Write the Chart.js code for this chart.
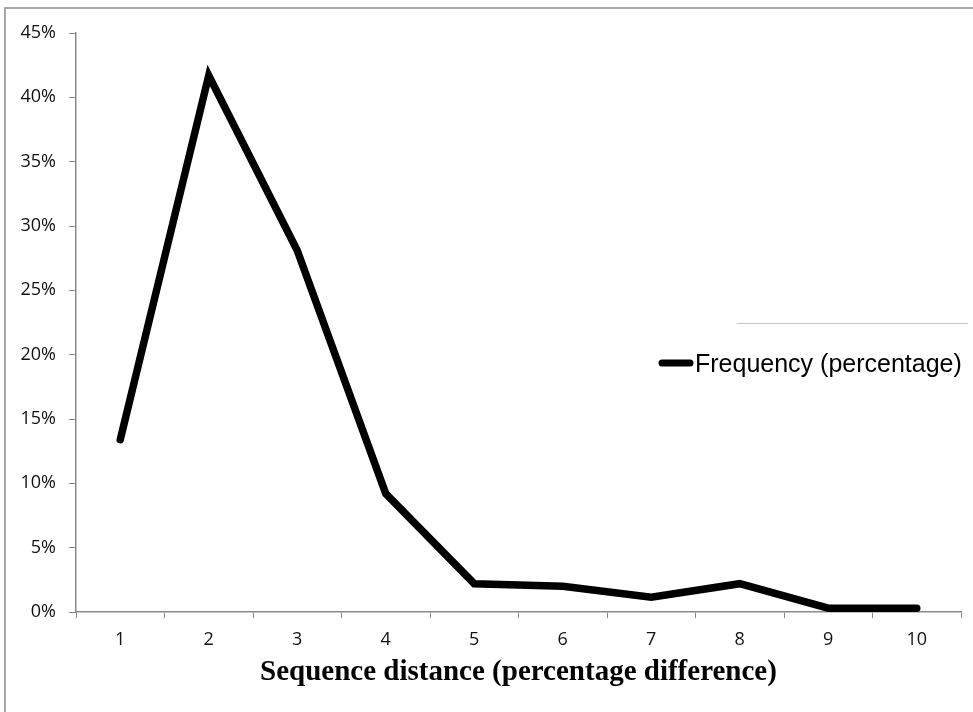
<!DOCTYPE html>
<html>
<head>
<meta charset="utf-8">
<script src="https://cdn.jsdelivr.net/npm/chart.js@4/dist/chart.umd.min.js"></script>
<style>
  html, body { margin: 0; padding: 0; background: #fff; }
  #wrap { position: relative; width: 973px; height: 712px; }
</style>
</head>
<body>
<div id="wrap"><canvas id="freqChart" width="973" height="712"></canvas></div>
<script>
// categories (sequence distance, %)
var distances = ["1", "2", "3", "4", "5", "6", "7", "8", "9", "10"];
// frequency, as fraction
var frequency = [0.134, 0.417, 0.281, 0.092, 0.022, 0.020, 0.0115, 0.022, 0.003, 0.003];
var seriesLabel = "Frequency (percentage)";
var xTitle = "Sequence distance (percentage difference)";
var yMax = 0.45;
var yStep = 0.05;

// frame, stray legend border and the legend itself
var extras = {
    id: "extras",
    afterDraw: function (chart) {
        var c = chart.ctx;
        c.save();
        // outer frame (left + top visible)
        c.strokeStyle = "#a8a8a8";
        c.lineWidth = 2;
        c.beginPath();
        c.moveTo(5, 712);
        c.lineTo(5, 8);
        c.lineTo(973, 8);
        c.stroke();
        // thin leftover line above legend
        c.strokeStyle = "#c4c4c4";
        c.lineWidth = 1;
        c.beginPath();
        c.moveTo(737, 323.5);
        c.lineTo(968, 323.5);
        c.stroke();
        // legend
        c.strokeStyle = "#000";
        c.lineWidth = 7;
        c.lineCap = "round";
        c.beginPath();
        c.moveTo(662, 363);
        c.lineTo(690, 363);
        c.stroke();
        c.fillStyle = "#000";
        c.font = "25px 'Liberation Sans', Arial, sans-serif";
        c.textBaseline = "alphabetic";
        c.textAlign = "left";
        c.fillText(chart.data.datasets[0].label, 695, 372);
        c.restore();
    }
};

var ctx = document.getElementById("freqChart");
var freqChart = new Chart(ctx, {
    type: "line",
    data: {
        labels: distances,
        datasets: [
            {
                label: seriesLabel,
                data: frequency,
                borderColor: "#000",
                borderWidth: 7.5,
                borderCapStyle: "round",
                borderJoinStyle: "miter",
                pointRadius: 0,
                tension: 0,
                fill: false
            }
        ]
    },
    options: {
        responsive: false,
        animation: false,
        layout: { padding: { top: 33, right: 12, left: 0, bottom: 0 } },
        plugins: {
            legend: { display: false },
            tooltip: { enabled: false }
        },
        scales: {
            x: {
                offset: true,
                grid: {
                    offset: true,
                    drawOnChartArea: false,
                    drawTicks: true,
                    tickLength: 6,
                    color: "#8a8a8a"
                },
                border: { color: "#8a8a8a", width: 1.5 },
                ticks: {
                    color: "#111",
                    padding: 11,
                    maxRotation: 0,
                    font: { family: "'Open Sans', sans-serif", size: 18 }
                },
                title: {
                    display: true,
                    text: xTitle,
                    color: "#000",
                    padding: { top: 0, bottom: 22 },
                    font: { family: "'Liberation Serif', 'Times New Roman', serif", size: 29, weight: "bold" }
                },
                afterFit: function (scale) { scale.height = 100; }
            },
            y: {
                min: 0,
                max: yMax,
                grid: {
                    drawOnChartArea: false,
                    drawTicks: true,
                    tickLength: 7,
                    color: "#8a8a8a"
                },
                border: { color: "#8a8a8a", width: 1.5 },
                ticks: {
                    stepSize: yStep,
                    color: "#111",
                    padding: 13,
                    font: { family: "'Open Sans', sans-serif", size: 18 },
                    callback: function (v) { return Math.round(v * 100) + "%"; }
                },
                afterFit: function (scale) { scale.width = 76; }
            }
        }
    },
    plugins: [extras]
});
</script>
</body>
</html>
